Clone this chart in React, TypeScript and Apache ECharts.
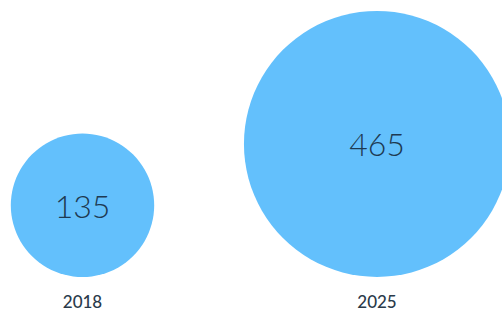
import React, { useEffect, useRef } from "react";
import * as echarts from "echarts";

const years = ["2018", "2025"];
const values = [135, 465];

const K = 6.17; // radius px per sqrt(value)

export default function App() {
  const ref = useRef<HTMLDivElement>(null);
  useEffect(() => {
    if (!ref.current) return;
    const chart = echarts.init(ref.current, undefined, { renderer: "svg" });
    const data = values.map((v, i) => {
      const r = K * Math.sqrt(v);
      return {
        value: [years[i], 0, v],
        symbolSize: 2 * r,
        symbolOffset: [0, -r],
      };
    });
    chart.setOption({
      animation: false,
      backgroundColor: "#ffffff",
      grid: { left: 82.5, right: 125, top: 10, bottom: 34, containLabel: false },
      xAxis: {
        type: "category",
        data: years,
        boundaryGap: false,
        axisLine: { show: false },
        axisTick: { show: false },
        splitLine: { show: false },
        axisLabel: {
          margin: 16,
          fontFamily: "Lato",
          fontSize: 17,
          fontWeight: 500,
          color: "#2a3a4a",
        },
      },
      yAxis: { type: "value", min: 0, max: 1, show: false },
      series: [
        {
          type: "scatter",
          symbol: "circle",
          data,
          clip: false,
          itemStyle: { color: "#63c0fc", opacity: 1 },
          label: {
            show: true,
            position: "inside",
            formatter: (p: any) => String(p.value[2]),
            fontFamily: "Lato",
            fontWeight: 300,
            fontSize: 32,
            color: "#1e3a52",
          },
        },
      ],
    });
    return () => chart.dispose();
  }, []);
  return (
    <div
      ref={ref}
      style={{ position: "fixed", left: 0, top: 0, width: 502, height: 311 }}
    />
  );
}
